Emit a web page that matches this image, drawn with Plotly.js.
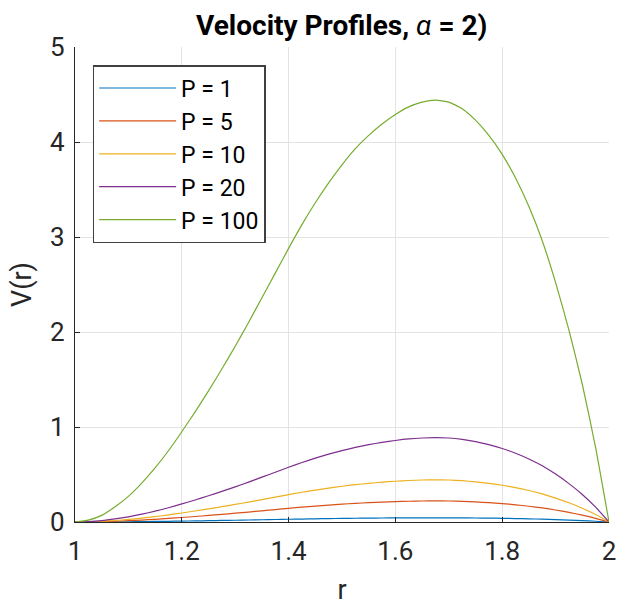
<!DOCTYPE html>
<html>
<head>
<meta charset="utf-8">
<script src="https://cdn.plot.ly/plotly-3.0.1.min.js"></script>
<style>
  html, body { margin: 0; padding: 0; background: #fff; }
  #chart { width: 619px; height: 606px; }
</style>
</head>
<body>
<div id="chart"></div>
<script>
// Radial positions across the annular gap (1 ≤ r ≤ 2)
const r = [1.000, 1.025, 1.050, 1.075, 1.100, 1.125, 1.150, 1.175, 1.200, 1.225,
           1.250, 1.275, 1.300, 1.325, 1.350, 1.375, 1.400, 1.425, 1.450, 1.475,
           1.500, 1.525, 1.550, 1.575, 1.600, 1.625, 1.650, 1.675, 1.700, 1.725,
           1.750, 1.775, 1.800, 1.825, 1.850, 1.875, 1.900, 1.925, 1.950, 1.975, 2.000];

// Velocity profiles V(r), one array per pressure value
const vP1 = [0, 0.0002, 0.0007, 0.0016, 0.0027, 0.0041, 0.0057, 0.0075, 0.0095, 0.0116,
             0.0138, 0.0161, 0.0185, 0.0210, 0.0236, 0.0262, 0.0288, 0.0313, 0.0336, 0.0357,
             0.0376, 0.0393, 0.0407, 0.0419, 0.0429, 0.0437, 0.0442, 0.0444, 0.0442, 0.0435,
             0.0423, 0.0407, 0.0387, 0.0362, 0.0332, 0.0296, 0.0252, 0.0202, 0.0145, 0.0078, 0];
const vP5 = [0, 0.0010, 0.0035, 0.0080, 0.0135, 0.0205, 0.0285, 0.0375, 0.0475, 0.0580,
             0.0690, 0.0805, 0.0925, 0.1050, 0.1180, 0.1310, 0.1440, 0.1565, 0.1680, 0.1785,
             0.1880, 0.1965, 0.2035, 0.2095, 0.2145, 0.2185, 0.2210, 0.2220, 0.2210, 0.2175,
             0.2115, 0.2035, 0.1935, 0.1810, 0.1660, 0.1480, 0.1260, 0.1010, 0.0725, 0.0390, 0];
const vP10 = [0, 0.002, 0.007, 0.016, 0.027, 0.041, 0.057, 0.075, 0.095, 0.116,
              0.138, 0.161, 0.185, 0.210, 0.236, 0.262, 0.288, 0.313, 0.336, 0.357,
              0.376, 0.393, 0.407, 0.419, 0.429, 0.437, 0.442, 0.444, 0.442, 0.435,
              0.423, 0.407, 0.387, 0.362, 0.332, 0.296, 0.252, 0.202, 0.145, 0.078, 0];
const vP20 = [0, 0.004, 0.014, 0.032, 0.054, 0.082, 0.114, 0.150, 0.190, 0.232,
              0.276, 0.322, 0.370, 0.420, 0.472, 0.524, 0.576, 0.626, 0.672, 0.714,
              0.752, 0.786, 0.814, 0.838, 0.858, 0.874, 0.884, 0.888, 0.884, 0.870,
              0.846, 0.814, 0.774, 0.724, 0.664, 0.592, 0.504, 0.404, 0.290, 0.156, 0];
const vP100 = [0, 0.02, 0.07, 0.16, 0.27, 0.41, 0.57, 0.75, 0.95, 1.16,
               1.38, 1.61, 1.85, 2.10, 2.36, 2.62, 2.88, 3.13, 3.36, 3.57,
               3.76, 3.93, 4.07, 4.19, 4.29, 4.37, 4.42, 4.44, 4.42, 4.35,
               4.23, 4.07, 3.87, 3.62, 3.32, 2.96, 2.52, 2.02, 1.45, 0.78, 0];

const seriesNames  = ['P = 1', 'P = 5', 'P = 10', 'P = 20', 'P = 100'];
const seriesValues = [vP1, vP5, vP10, vP20, vP100];
const seriesColors = ['#0072BD', '#D95319', '#EDB120', '#7E2F8E', '#77AC30'];

const xTicks = [1, 1.2, 1.4, 1.6, 1.8, 2];
const yTicks = [0, 1, 2, 3, 4, 5];

const FONT = 'Roboto, "Liberation Sans", sans-serif';
const INK = '#262626';

const traces = seriesNames.map((name, i) => ({
  type: 'scatter',
  mode: 'lines',
  name: name,
  x: r,
  y: seriesValues[i],
  line: { color: seriesColors[i], width: 1.2, shape: 'spline', smoothing: 0.5 }
}));

const axisCommon = {
  showgrid: true,
  gridcolor: '#e3e3e3',
  gridwidth: 1,
  zeroline: false,
  showline: true,
  linecolor: INK,
  linewidth: 1.2,
  ticks: 'inside',
  ticklen: 5,
  tickwidth: 1,
  tickcolor: INK,
  tickfont: { family: FONT, size: 26, color: INK },
  tickmode: 'array'
};

const layout = {
  width: 619,
  height: 606,
  margin: { l: 75, r: 10, t: 47, b: 84 },
  paper_bgcolor: '#ffffff',
  plot_bgcolor: '#ffffff',
  title: {
    text: '<b>Velocity Profiles, </b><i>α</i><b> = 2)</b>',
    font: { family: FONT, size: 28, color: '#000000' },
    x: 0.552, xanchor: 'center',
    y: 0.959, yanchor: 'middle'
  },
  xaxis: Object.assign({}, axisCommon, {
    range: [1, 2],
    tickvals: xTicks,
    ticktext: xTicks.map(String),
    ticklabelstandoff: 6,
    title: { text: 'r', font: { family: FONT, size: 27, color: INK }, standoff: 17 }
  }),
  yaxis: Object.assign({}, axisCommon, {
    range: [0, 5],
    tickvals: yTicks,
    ticktext: yTicks.map(String),
    ticklabelstandoff: 4,
    title: { text: 'V(r)', font: { family: FONT, size: 27, color: INK }, standoff: 10 }
  }),
  legend: {
    x: 0.033, y: 0.962, xanchor: 'left', yanchor: 'top',
    bgcolor: '#ffffff',
    bordercolor: '#404040',
    borderwidth: 1.5,
    font: { family: FONT, size: 23, color: '#000000' },
    itemwidth: 77,
    tracegroupgap: 0
  },
  showlegend: true
};

Plotly.newPlot('chart', traces, layout, { staticPlot: true, displayModeBar: false });
</script>
</body>
</html>
